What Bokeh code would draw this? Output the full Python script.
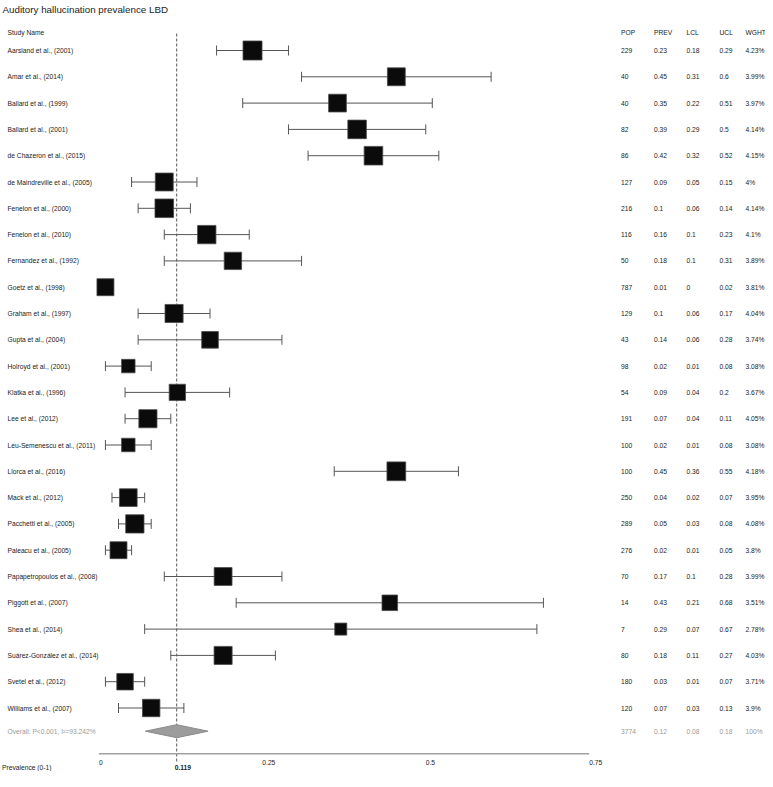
import numpy as np
from bokeh.plotting import figure
from bokeh.models import ColumnDataSource, Range1d
from bokeh.core.properties import value
from bokeh.embed import file_html
from bokeh.resources import INLINE

# ---------------- data ----------------
title = "Auditory hallucination prevalence LBD"
studies = ["Aarsland et al., (2001)", "Amar et al., (2014)", "Ballard et al., (1999)",
           "Ballard et al., (2001)", "de Chazeron et al., (2015)", "de Maindreville et al., (2005)",
           "Fenelon et al., (2000)", "Fenelon et al., (2010)", "Fernandez et al., (1992)",
           "Goetz et al., (1998)", "Graham et al., (1997)", "Gupta et al., (2004)",
           "Holroyd et al., (2001)", "Klatka et al., (1996)", "Lee et al., (2012)",
           "Leu-Semenescu et al., (2011)", "Llorca et al., (2016)", "Mack et al., (2012)",
           "Pacchetti et al., (2005)", "Paleacu et al., (2005)", "Papapetropoulos et al., (2008)",
           "Piggott et al., (2007)", "Shea et al., (2014)", "Suárez-González et al., (2014)",
           "Svetel et al., (2012)", "Williams et al., (2007)"]
pop = [229, 40, 40, 82, 86, 127, 216, 116, 50, 787, 129, 43, 98, 54, 191, 100, 100, 250,
       289, 276, 70, 14, 7, 80, 180, 120]
prev = [0.23, 0.45, 0.35, 0.39, 0.42, 0.09, 0.1, 0.16, 0.18, 0.01, 0.1, 0.14, 0.02, 0.09,
        0.07, 0.02, 0.45, 0.04, 0.05, 0.02, 0.17, 0.43, 0.29, 0.18, 0.03, 0.07]
lcl = [0.18, 0.31, 0.22, 0.29, 0.32, 0.05, 0.06, 0.1, 0.1, 0, 0.06, 0.06, 0.01, 0.04,
       0.04, 0.01, 0.36, 0.02, 0.03, 0.01, 0.1, 0.21, 0.07, 0.11, 0.01, 0.03]
ucl = [0.29, 0.6, 0.51, 0.5, 0.52, 0.15, 0.14, 0.23, 0.31, 0.02, 0.17, 0.28, 0.08, 0.2,
       0.11, 0.08, 0.55, 0.07, 0.08, 0.05, 0.28, 0.68, 0.67, 0.27, 0.07, 0.13]
wght = [4.23, 3.99, 3.97, 4.14, 4.15, 4, 4.14, 4.1, 3.89, 3.81, 4.04, 3.74, 3.08, 3.67,
        4.05, 3.08, 4.18, 3.95, 4.08, 3.8, 3.99, 3.51, 2.78, 4.03, 3.71, 3.9]

overall_label = "Overall: P<0.001, I²=93.242%"
overall_pop, overall_prev, overall_lcl, overall_ucl, overall_wght = 3774, 0.12, 0.08, 0.18, 100
overall_est = 0.119          # pooled estimate (dashed line)
diamond_lo, diamond_hi = 0.071, 0.167   # diamond extent as drawn

columns = ["POP", "PREV", "LCL", "UCL", "WGHT"]
ticks = [0, 0.25, 0.5, 0.75]
x_label = "Prevalence (0-1)"

# ---------------- layout helpers ----------------
W, H = 765, 771
PX_PER_UNIT = 653.7
X0_PX = 98.4
ROW0_PX, ROW_H = 50.0, 26.3

def px2x(px):
    return (px - X0_PX) / PX_PER_UNIT

def py2y(py):
    return (py - ROW0_PX) / ROW_H

p = figure(width=W, height=H, output_backend="svg", toolbar_location=None,
           x_range=Range1d(px2x(0), px2x(W)),
           y_range=Range1d(py2y(H), py2y(0)),
           min_border=0, outline_line_color=None)
p.axis.visible = False
p.grid.visible = False

FONT = value("Liberation Sans")
FS = "6.7px"
TXT = "#222222"
GREY = "#9a9a9a"

n = len(studies)
rows = np.arange(n, dtype=float)
lcl_a = np.array(lcl, dtype=float)
ucl_a = np.array(ucl, dtype=float)
mid = (lcl_a + ucl_a) / 2.0
size = 4.8 * np.array(wght) - 1.3
cap = 5.0 / ROW_H

src = ColumnDataSource(dict(y=rows, lcl=lcl_a, ucl=ucl_a, mid=mid, size=size,
                            y0=rows - cap, y1=rows + cap))

overall_row = py2y(730.7)

# dashed reference line
p.segment(x0=[overall_est], x1=[overall_est], y0=[py2y(33)], y1=[py2y(762)],
          line_color="#555555", line_width=1, line_dash="3 2")

# whiskers and caps
p.segment(x0="lcl", x1="ucl", y0="y", y1="y", source=src, line_color="#555555", line_width=1)
p.segment(x0="lcl", x1="lcl", y0="y0", y1="y1", source=src, line_color="#555555", line_width=1)
p.segment(x0="ucl", x1="ucl", y0="y0", y1="y1", source=src, line_color="#555555", line_width=1)

# boxes
p.rect(x="mid", y="y", width="size", height="size", width_units="screen",
       height_units="screen", source=src, fill_color="#0b0b0b", line_color="#4a4a4a",
       line_width=0.8)

# overall diamond
dh = 6.5 / ROW_H
p.patch(x=[diamond_lo, overall_est, diamond_hi, overall_est],
        y=[overall_row, overall_row - dh, overall_row, overall_row + dh],
        fill_color="#9c9c9c", line_color="#8a8a8a", line_width=1)

# axis line
axis_y = py2y(753.3)
p.segment(x0=[ticks[0]], x1=[ticks[-1]], y0=[axis_y], y1=[axis_y],
          line_color="#a0a0a0", line_width=1.5)
p.text(x=ticks, y=[py2y(761.5)] * len(ticks), text=[f"{t:g}" for t in ticks],
       text_font=FONT, text_font_size=FS, text_color=TXT, text_baseline="middle",
       text_align="left")
p.text(x=[overall_est], y=[py2y(767)], text=[f"{overall_est:g}"], x_offset=-2,
       text_font=FONT, text_font_size=FS, text_color=TXT, text_baseline="middle",
       text_align="left", text_font_style="bold")

# title, x label
p.text(x=[px2x(2)], y=[py2y(9)], text=[title], text_font=FONT, text_font_size="9.8px",
       text_color=TXT, text_baseline="middle", text_align="left")
p.text(x=[px2x(1.5)], y=[py2y(767)], text=[x_label], text_font=FONT, text_font_size=FS,
       text_color=TXT, text_baseline="middle", text_align="left")

# study labels
label_x = px2x(7)
p.text(x=[label_x], y=[py2y(31.7)], text=["Study Name"], text_font=FONT,
       text_font_size=FS, text_color=TXT, text_baseline="middle", text_align="left")
p.text(x=[label_x] * n, y=rows, text=studies, text_font=FONT, text_font_size=FS,
       text_color=TXT, text_baseline="middle", text_align="left")
p.text(x=[label_x], y=[overall_row], text=[overall_label], text_font=FONT,
       text_font_size=FS, text_color=GREY, text_baseline="middle", text_align="left")

# table
col_x = [px2x(v) for v in (620.5, 653.5, 686, 719, 745)]
p.text(x=col_x, y=[py2y(31.7)] * 5, text=columns, text_font=FONT, text_font_size=FS,
       text_color=TXT, text_baseline="middle", text_align="left")
table = [[str(v) for v in pop], [f"{v:g}" for v in prev], [f"{v:g}" for v in lcl],
         [f"{v:g}" for v in ucl], [f"{v:g}%" for v in wght]]
for cx, col in zip(col_x, table):
    p.text(x=[cx] * n, y=rows, text=col, text_font=FONT, text_font_size=FS,
           text_color=TXT, text_baseline="middle", text_align="left")
overall_vals = [str(overall_pop), f"{overall_prev:g}", f"{overall_lcl:g}",
                f"{overall_ucl:g}", f"{overall_wght:g}%"]
p.text(x=col_x, y=[overall_row] * 5, text=overall_vals, text_font=FONT, text_font_size=FS,
       text_color=GREY, text_baseline="middle", text_align="left")

open("out.html", "w").write(file_html(p, INLINE))
